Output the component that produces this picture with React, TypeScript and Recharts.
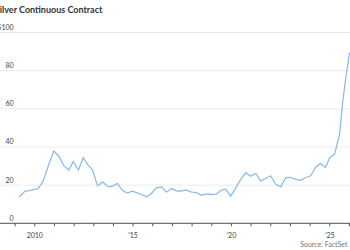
import React from "react";
import { LineChart, Line, XAxis, YAxis, CartesianGrid } from "recharts";

const years = [
  2009.2, 2009.49, 2009.83, 2010.17, 2010.42, 2010.73, 2010.97, 2011.24, 2011.47, 2011.73,
  2011.95, 2012.22, 2012.46, 2012.71, 2012.93, 2013.19, 2013.44, 2013.73, 2013.98, 2014.2,
  2014.44, 2014.69, 2014.97, 2015.2, 2015.42, 2015.68, 2015.93, 2016.19, 2016.44, 2016.7,
  2016.95, 2017.12, 2017.29, 2017.71, 2017.97, 2018.22, 2018.47, 2018.73, 2018.98, 2019.24,
  2019.49, 2019.71, 2019.96, 2020.22, 2020.51, 2020.73, 2020.98, 2021.24, 2021.49, 2021.74,
  2022.0, 2022.25, 2022.51, 2022.76, 2023.01, 2023.27, 2023.52, 2023.78, 2024.03, 2024.27,
  2024.52, 2024.78, 2025.0, 2025.25, 2025.5, 2025.67, 2025.84, 2026.01,
];
const prices = [
  13.8, 16.8, 17.4, 18.2, 22.1, 31.4, 37.9, 34.9, 30.2, 27.9,
  32.3, 27.9, 34.4, 30.5, 28.2, 19.6, 21.7, 19.1, 19.6, 20.9,
  17.4, 15.8, 16.8, 15.9, 15.1, 13.9, 15.6, 18.6, 19.1, 16.3,
  18.2, 17.4, 16.8, 17.4, 16.3, 16.1, 14.7, 15.4, 15.1, 15.3,
  17.4, 17.9, 14.2, 18.6, 23.5, 26.5, 24.7, 26.1, 22.1, 23.5,
  24.9, 20.4, 19.1, 23.9, 24.0, 23.0, 22.5, 24.0, 24.9, 29.3,
  31.4, 29.3, 34.4, 36.3, 46.7, 64.7, 78.0, 89.6,
];
const xTicks = [2009, 2010, 2011, 2012, 2013, 2014, 2015, 2016, 2017, 2018, 2019, 2020, 2021, 2022, 2023, 2024, 2025, 2026];
const xLabels: Record<number, string> = { 2010: "2010", 2015: "\u201915", 2020: "\u201920", 2025: "\u201925" };
const yTicks = [0, 20, 40, 60, 80, 100];
const yLabels: Record<number, string> = { 0: "0", 20: "20", 40: "40", 60: "60", 80: "80", 100: "$100" };
const title = "Silver Continuous Contract";
const source = "Source: FactSet";

const data = years.map((t, i) => ({ t, v: prices[i] }));
const FONT = "Lato, 'Open Sans', sans-serif";

const renderYTick = (props: any) => {
  const { y, payload } = props;
  return (
    <text key={payload.value} x={13.6} y={y - 2.6} textAnchor="end" fontSize={7} fontFamily={FONT} fill="#444">
      {yLabels[payload.value]}
    </text>
  );
};

export default function App() {
  return (
    <div style={{ position: "absolute", left: 0, top: 0, width: 350, height: 250, background: "#fff" }}>
      <LineChart
        width={350}
        height={250}
        data={data}
        margin={{ top: 32.5, right: 0, left: -10, bottom: 6.7 }}
      >
        <CartesianGrid vertical={false} stroke="#ebebeb" strokeWidth={1} />
        <XAxis
          dataKey="t"
          type="number"
          domain={[2008.23, 2026.03]}
          ticks={xTicks}
          tickFormatter={(v: number) => xLabels[v] || ""}
          height={20}
          tickSize={3}
          tickMargin={7}
          interval={0}
          axisLine={{ stroke: "#555", strokeWidth: 1 }}
          tickLine={{ stroke: "#555", strokeWidth: 1 }}
          tick={{ fontSize: 7, fontFamily: FONT, fill: "#444" }}
          allowDataOverflow
        />
        <YAxis
          type="number"
          domain={[0, 100]}
          ticks={yTicks}
          width={10}
          axisLine={false}
          tickLine={false}
          tick={renderYTick}
          interval={0}
        />
        <Line
          dataKey="v"
          type="linear"
          stroke="#8ebde9"
          strokeWidth={1.3}
          dot={false}
          isAnimationActive={false}
        />
      </LineChart>
      <svg width={350} height={250} style={{ position: "absolute", left: 0, top: 0, pointerEvents: "none" }}>
        <text x={-5.2} y={12.5} fontSize={9} fontWeight={700} fontFamily={FONT} fill="#333">
          {title}
        </text>
        <text x={347.5} y={247} textAnchor="end" fontSize={7} fontFamily={FONT} fill="#777">
          {source}
        </text>
      </svg>
    </div>
  );
}
